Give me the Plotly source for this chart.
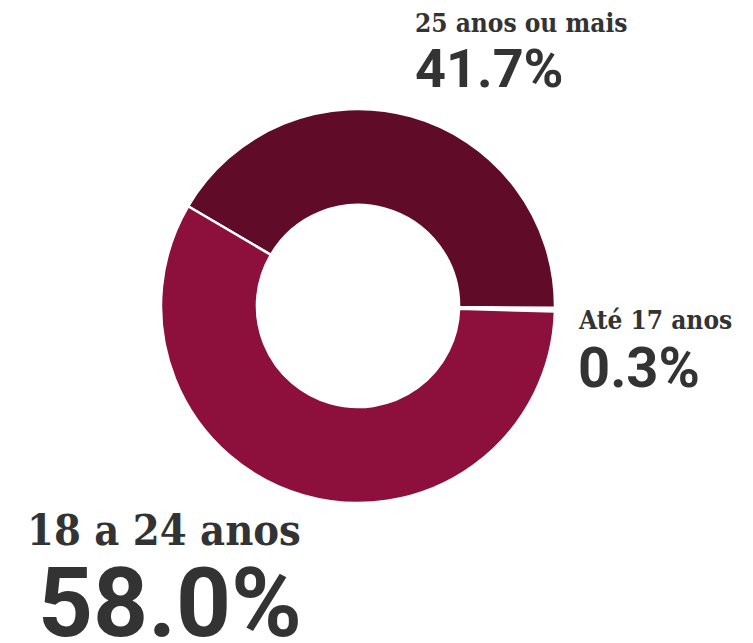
import plotly.graph_objects as go

W, H = 753, 643
labels = ["Até 17 anos", "25 anos ou mais", "18 a 24 anos"]
values = [0.3, 41.7, 58.0]
colors = ["#ffffff", "#600b28", "#8c0f3c"]

cx, cy, R = 358, 306, 197

fig = go.Figure(go.Pie(
    labels=labels, values=values, sort=False,
    direction="counterclockwise", rotation=90 + values[0] / 100 * 180,
    hole=0.513,
    marker=dict(colors=colors, line=dict(color="#ffffff", width=2.5)),
    textinfo="none", hoverinfo="label+percent", showlegend=False,
    domain=dict(x=[(cx - R) / W, (cx + R) / W], y=[(H - cy - R) / H, (H - cy + R) / H]),
))

# label placement: (x_left, label_cap_center, label_size, pct_x, pct_cap_center, pct_size)
place = {
    "25 anos ou mais": (413, 23, 26, 413, 68, 54),
    "Até 17 anos": (576, 320, 26, 576, 368, 56),
    "18 a 24 anos": (25, 530, 43, 36, 603, 96),
}
ann = []
for lab, v in zip(labels, values):
    lx, ly, ls, px, py, ps = place[lab]
    ann.append(dict(x=lx / W, y=1 - ly / H, xref="paper", yref="paper", xanchor="left", yanchor="middle",
                    text=f"<b>{lab}</b>", showarrow=False,
                    font=dict(family="DejaVu Serif Condensed, DejaVu Serif", size=ls, color="#333333")))
    ann.append(dict(x=px / W, y=1 - py / H, xref="paper", yref="paper", xanchor="left", yanchor="middle",
                    text=f"<b>{v:.1f}%</b>", showarrow=False,
                    font=dict(family="Roboto", size=ps, color="#333333")))

fig.update_layout(width=W, height=H, margin=dict(l=0, r=0, t=0, b=0),
                  paper_bgcolor="#ffffff", plot_bgcolor="#ffffff", annotations=ann)
fig.write_html("out.html", config={"displayModeBar": False},
               post_script="document.body.style.margin='0';document.body.style.overflow='hidden';")
